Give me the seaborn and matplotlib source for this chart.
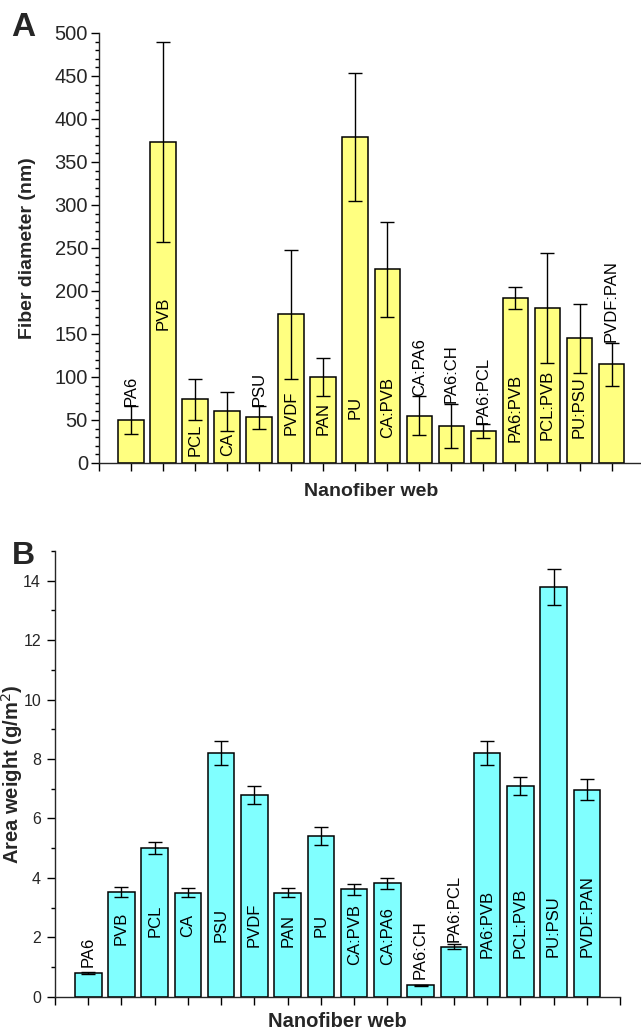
import matplotlib
matplotlib.use("Agg")
import matplotlib.pyplot as plt
import numpy as np
import pandas as pd
import seaborn as sns
from matplotlib.ticker import MultipleLocator

# webs, in plotting order
webs = ["PA6", "PVB", "PCL", "CA", "PSU", "PVDF", "PAN", "PU",
        "CA:PVB", "CA:PA6", "PA6:CH", "PA6:PCL", "PA6:PVB", "PCL:PVB",
        "PU:PSU", "PVDF:PAN"]

# panel A: fiber diameter (nm)
diam_mean = [50, 373, 74, 60, 53, 173, 100, 379, 225, 55, 43, 37, 192, 180, 145, 115]
diam_sd = [16, 116, 24, 23, 13, 75, 22, 74, 55, 23, 26, 8, 13, 64, 40, 25]
# where the rotated web name starts (bottom of text)
diam_label_y = [66, 155, 8, 8, 66, 33, 33, 51, 29, 78, 70, 45, 24, 27, 29, 141]

# panel B: area weight (g/m2)
weight_mean = [0.80, 3.52, 5.00, 3.50, 8.20, 6.80, 3.50, 5.40, 3.62, 3.82,
               0.38, 1.68, 8.20, 7.10, 13.80, 6.97]
weight_sd = [0.03, 0.18, 0.20, 0.15, 0.40, 0.30, 0.16, 0.30, 0.18, 0.19,
             0.02, 0.08, 0.40, 0.30, 0.60, 0.35]
weight_label_y = [1.0, 1.74, 2.0, 2.0, 1.85, 1.68, 1.68, 2.0, 1.06, 1.06,
                  0.6, 1.84, 1.29, 1.29, 1.34, 1.34]

df = pd.DataFrame({"web": webs, "diameter": diam_mean, "weight": weight_mean})

sns.set_style("ticks")
plt.rcParams["font.family"] = ["Liberation Sans", "DejaVu Sans"]
plt.rcParams["axes.linewidth"] = 1.0

fig = plt.figure(figsize=(6.41, 10.30), dpi=100)
axA = fig.add_axes([0.1545, 0.5505, 0.8495, 0.4175])
axB = fig.add_axes([0.0858, 0.0323, 0.8815, 0.4327])


def draw_panel(ax, col, sd, label_y, color, ymax, major, minor, tick_fs, pad):
    sns.barplot(data=df, x="web", y=col, color=color, saturation=1, width=0.8,
                edgecolor="black", linewidth=1.1, errorbar=None, ax=ax)
    x = np.arange(len(webs))
    ax.errorbar(x, df[col], yerr=sd, fmt="none", ecolor="black",
                elinewidth=1.0, capsize=5, capthick=1.0)
    for i, name in enumerate(webs):
        ax.text(i, label_y[i], name, rotation=90, ha="center", va="bottom",
                fontsize=12, color="black")
    ax.set_xlim(-1, len(webs))
    ax.set_xticks(np.arange(-1, len(webs) + 1))
    ax.set_xticklabels([])
    ax.set_ylim(0, ymax)
    ax.yaxis.set_major_locator(MultipleLocator(major))
    ax.yaxis.set_minor_locator(MultipleLocator(minor))
    ax.tick_params(axis="both", which="major", length=5.5, width=1.0,
                   direction="out", color="black", labelsize=tick_fs, pad=pad)
    ax.tick_params(axis="y", which="minor", length=3, width=1.0, color="black")
    sns.despine(ax=ax)


draw_panel(axA, "diameter", diam_sd, diam_label_y, "#FFFF80", 500, 50, 10, 14.5, 2.5)
axA.set_xlabel("Nanofiber web", fontsize=14, fontweight="bold", va="center")
axA.xaxis.set_label_coords(0.5, -0.067)
axA.set_ylabel("Fiber diameter (nm)", fontsize=14, fontweight="bold", va="center")
axA.yaxis.set_label_coords(-0.132, 0.5)

draw_panel(axB, "weight", weight_sd, weight_label_y, "#80FFFF", 15, 2, 1, 11.5, 4.5)
axB.set_xlabel("Nanofiber web", fontsize=14.5, fontweight="bold", va="center")
axB.xaxis.set_label_coords(0.5, -0.056)
axB.set_ylabel("Area weight (g/m$^{2}$)", fontsize=14.5, fontweight="bold", va="center")
axB.yaxis.set_label_coords(-0.076, 0.5)

fig.text(0.018, 0.973, "A", fontsize=24, fontweight="bold", va="center")
fig.text(0.018, 0.460, "B", fontsize=23, fontweight="bold", va="center")

fig.savefig("out.png", dpi=100)
